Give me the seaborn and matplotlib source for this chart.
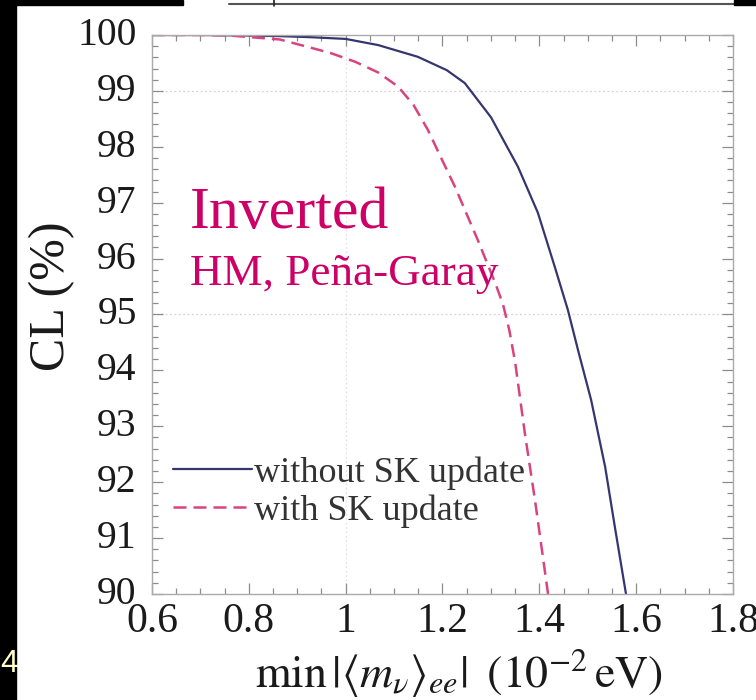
import numpy as np
import pandas as pd
import seaborn as sns
import matplotlib
matplotlib.use("Agg")
import matplotlib.pyplot as plt
import matplotlib.transforms as mtransforms
from matplotlib.patches import Rectangle
from matplotlib.lines import Line2D
from matplotlib.ticker import MultipleLocator, FuncFormatter

# ---- data ----
mass_without = [0.60, 0.70, 0.80, 0.864, 0.93, 1.00, 1.067, 1.149, 1.209, 1.246, 1.300,
                1.356, 1.397, 1.432, 1.459, 1.480, 1.507, 1.536, 1.556, 1.579]
cl_without = [100.0, 100.0, 99.99, 99.98, 99.96, 99.93, 99.82, 99.61, 99.37, 99.14, 98.53,
              97.64, 96.82, 95.85, 95.08, 94.36, 93.47, 92.27, 91.20, 90.0]

mass_with = [0.60, 0.70, 0.761, 0.864, 0.968, 1.020, 1.067, 1.108, 1.140, 1.170, 1.200,
             1.226, 1.273, 1.309, 1.325, 1.338, 1.350, 1.370, 1.391, 1.414, 1.418]
cl_with = [100.0, 100.0, 99.99, 99.92, 99.68, 99.52, 99.33, 99.08, 98.75, 98.30, 97.75,
           97.28, 96.33, 95.56, 95.18, 94.72, 94.15, 92.88, 91.68, 90.25, 90.0]

series_labels = ["without SK update", "with SK update"]
x_ticks = [0.6, 0.8, 1.0, 1.2, 1.4, 1.6, 1.8]
y_ticks = [90, 91, 92, 93, 94, 95, 96, 97, 98, 99, 100]

df = pd.concat([
    pd.DataFrame({"mass": mass_without, "cl": cl_without, "series": series_labels[0]}),
    pd.DataFrame({"mass": mass_with, "cl": cl_with, "series": series_labels[1]}),
], ignore_index=True)

# ---- style ----
sns.set_theme(style="white")
plt.rcParams["font.family"] = ["Liberation Serif", "DejaVu Serif"]
plt.rcParams["mathtext.fontset"] = "stix"

W, H = 756, 700
fig = plt.figure(figsize=(W / 100, H / 100), dpi=100)
fig.patch.set_facecolor("white")

ax = fig.add_axes([152 / W, 1 - 594 / H, (733 - 152) / W, (594 - 35) / H])
ax.set_facecolor("white")

solid_col = "#36366f"
dash_col = "#d8447e"

sns.lineplot(data=df[df.series == series_labels[0]], x="mass", y="cl", ax=ax,
             color=solid_col, lw=1.6, sort=False, label=series_labels[0])
sns.lineplot(data=df[df.series == series_labels[1]], x="mass", y="cl", ax=ax,
             color=dash_col, lw=1.8, sort=False, linestyle=(0, (5.2, 2.8)),
             label=series_labels[1])

# faint dotted grid remnants
for yv in (99, 95):
    ax.axhline(yv, color="#d4d4d4", lw=0.9, ls=(0, (1.5, 2)), zorder=0)
ax.axvline(1.0, color="#e2e2e2", lw=0.9, ls=(0, (1.5, 2)), zorder=0)

ax.set_xlim(0.6, 1.8)
ax.set_ylim(90, 100)
ax.set_xticks(x_ticks)
ax.set_yticks(y_ticks)
ax.xaxis.set_minor_locator(MultipleLocator(0.05))
ax.yaxis.set_minor_locator(MultipleLocator(0.2))
ax.xaxis.set_major_formatter(FuncFormatter(lambda v, p: f"{v:g}"))

ax.tick_params(which="both", direction="in", top=True, right=True, bottom=True, left=True,
               color="#8c8c8c", width=0.9)
ax.tick_params(which="major", length=8)
ax.tick_params(which="minor", length=4)
ax.tick_params(axis="y", which="major", labelsize=28.5, pad=11, labelcolor="#1a1a1a")
ax.tick_params(axis="x", which="major", labelsize=30, pad=6, labelcolor="#1a1a1a")
for s in ax.spines.values():
    s.set_color("#aaaaaa")
    s.set_linewidth(1.0)

# y tick labels sit slightly above their ticks in the reference
shift = mtransforms.ScaledTranslation(0, 4 / 100, fig.dpi_scale_trans)
for lab in ax.get_yticklabels():
    lab.set_transform(lab.get_transform() + shift)

ax.set_xlabel("")
ax.set_ylabel("")

leg = ax.legend(loc="center left", bbox_to_anchor=(0.036, 0.182), frameon=False,
                fontsize=26, handlelength=2.2, handletextpad=0.05,
                labelspacing=0.12, borderpad=0, borderaxespad=0)
for t in leg.get_texts():
    t.set_color("#333333")

# annotations
ax.text((190 - 152) / 581, 1 - (228 - 35) / 559, "Inverted", transform=ax.transAxes,
        color="#cc0066", fontsize=43, va="baseline", ha="left")
ax.text((190 - 152) / 581, 1 - (285 - 35) / 559, "HM, Peña-Garay", transform=ax.transAxes,
        color="#cc0066", fontsize=32.5, va="baseline", ha="left")

# axis titles
fig.text(52 / W, 1 - 296 / H, "CL (%)", rotation=90, fontsize=36,
         ha="center", va="center", color="#1a1a1a")
fig.text(459 / W, 1 - 688 / H,
         r"$\mathrm{min}\,|\langle m_{\nu}\rangle_{ee}|\;\;(10^{-2}\,\mathrm{eV})$",
         fontsize=33, ha="center", va="baseline", color="#1a1a1a")

# slide decorations
fig.patches.append(Rectangle((0, 0), 16 / W, 1, transform=fig.transFigure,
                             color="black", zorder=5))
fig.patches.append(Rectangle((0, 1 - 5 / H), 183 / W, 5 / H, transform=fig.transFigure,
                             color="black", zorder=5))
fig.patches.append(Rectangle((734 / W, 1 - 5 / H), 22 / W, 5 / H, transform=fig.transFigure,
                             color="black", zorder=5))
fig.lines.append(Line2D([229 / W, 734 / W], [1 - 3.5 / H, 1 - 3.5 / H],
                        transform=fig.transFigure, color="#555555", lw=1.5))
fig.lines.append(Line2D([274 / W, 274 / W], [1 - 6 / H, 1], transform=fig.transFigure,
                        color="#222222", lw=1.2))
fig.text(0.5 / W, 1 - 672 / H, "4", color="#ffffc8", fontsize=23, va="baseline", ha="left",
         family=["Liberation Sans", "DejaVu Sans"], zorder=6)

fig.savefig("out.png", dpi=100)
